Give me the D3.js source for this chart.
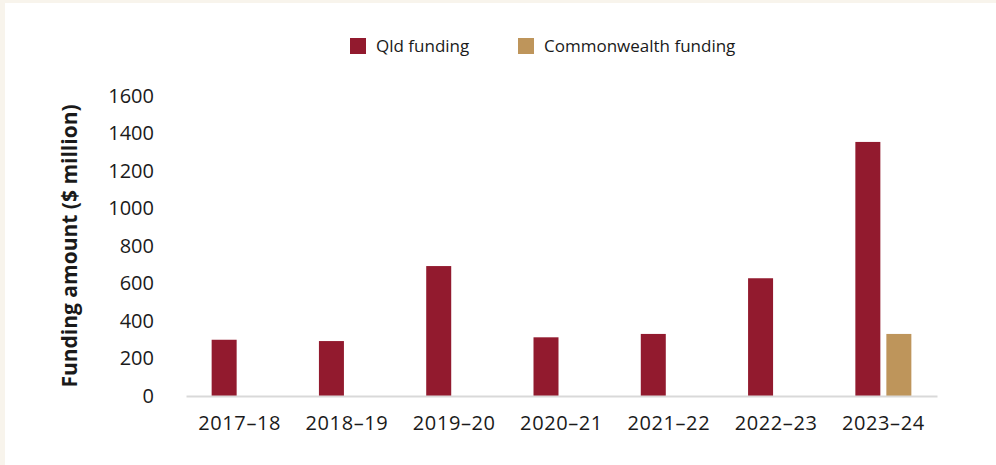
<!DOCTYPE html>
<html>
<head>
<meta charset="utf-8">
<script src="https://cdn.jsdelivr.net/npm/d3@7"></script>
<style>
  html, body { margin: 0; padding: 0; background: #f8f4ec; }
  svg { display: block; }
  text { font-family: "Open Sans", "Noto Sans", sans-serif; fill: #1a1a1a; }
</style>
</head>
<body>
<svg id="chart" width="996" height="465"></svg>
<script>
// data
var years = ['2017–18', '2018–19', '2019–20', '2020–21', '2021–22', '2022–23', '2023–24'];
var seriesNames = ['Qld funding', 'Commonwealth funding'];
var qldFunding = [300, 293, 693, 313, 331, 628, 1355];
var cwlthFunding = [0, 0, 0, 0, 0, 0, 331];
var yTicks = [0, 200, 400, 600, 800, 1000, 1200, 1400, 1600];
var colours = ['#921a2e', '#be955b'];

var svg = d3.select('#chart');

// white panel on cream page
svg.append('rect').attr('x', 5).attr('y', 3).attr('width', 991).attr('height', 462).attr('fill', '#ffffff');

var margin = {left: 186, right: 59, top: 96, bottom: 69};
var w = 996 - margin.left - margin.right;
var h = 465 - margin.top - margin.bottom;

var g = svg.append('g').attr('transform', 'translate(' + margin.left + ',' + margin.top + ')');

var x0 = d3.scaleBand().domain(years).range([0, w]).padding(0);
var groupW = 56;
var x1 = d3.scaleBand().domain(seriesNames).range([0, groupW]).paddingInner(6 / 31).paddingOuter(0);
var y = d3.scaleLinear().domain([0, 1600]).range([h, 0]);

var rows = years.map(function (yr, i) {
  return {year: yr, values: [qldFunding[i], cwlthFunding[i]]};
});

// bars
var groups = g.selectAll('g.year').data(rows).enter().append('g')
  .attr('class', 'year')
  .attr('transform', function (d) { return 'translate(' + (x0(d.year) + (x0.bandwidth() - groupW) / 2) + ',0)'; });

groups.selectAll('rect').data(function (d) {
  return d.values.map(function (v, k) { return {name: seriesNames[k], value: v, k: k}; }).filter(function (e) { return e.value > 0; });
}).enter().append('rect')
  .attr('x', function (d) { return x1(d.name); })
  .attr('y', function (d) { return y(d.value); })
  .attr('width', x1.bandwidth())
  .attr('height', function (d) { return h - y(d.value); })
  .attr('fill', function (d) { return colours[d.k]; });

// x axis
var xAxis = g.append('g').attr('transform', 'translate(0,' + h + ')')
  .call(d3.axisBottom(x0).tickSize(0).tickPadding(20));
xAxis.select('.domain').attr('stroke', '#d9d9d9').attr('stroke-width', 2);
xAxis.selectAll('text').attr('font-size', 20).attr('letter-spacing', 0.6).style('fill', '#1a1a1a');

// y axis
var yAxis = g.append('g')
  .call(d3.axisLeft(y).tickValues(yTicks).tickFormat(d3.format('d')).tickSize(0).tickPadding(32));
yAxis.select('.domain').remove();
yAxis.selectAll('text').attr('font-size', 20).style('fill', '#1a1a1a');

// y axis title
svg.append('text')
  .attr('transform', 'translate(77,' + (margin.top + h / 2) + ') rotate(-90)')
  .attr('text-anchor', 'middle')
  .attr('font-size', 21)
  .attr('font-weight', 'bold')
  .text('Funding amount ($ million)');

// legend
var legendX = [350, 518];
var legend = svg.selectAll('g.legend').data(seriesNames).enter().append('g')
  .attr('class', 'legend')
  .attr('transform', function (d, i) { return 'translate(' + legendX[i] + ',38)'; });
legend.append('rect').attr('width', 16).attr('height', 16).attr('fill', function (d, i) { return colours[i]; });
legend.append('text').attr('x', 26).attr('y', 14).attr('font-size', 17).text(function (d) { return d; });
</script>
</body>
</html>
